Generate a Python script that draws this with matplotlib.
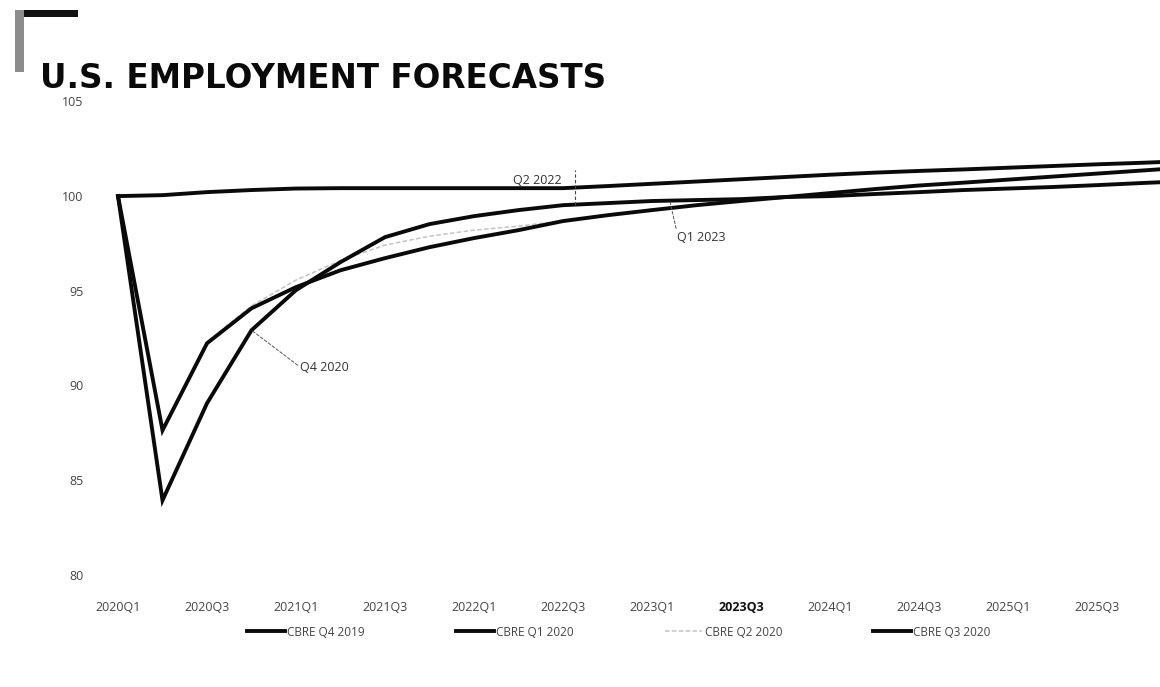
import matplotlib
matplotlib.use("Agg")
import matplotlib.pyplot as plt
from matplotlib.patches import Rectangle
import numpy as np

# ---------------- data ----------------
quarters = ["2020Q1", "2020Q2", "2020Q3", "2020Q4", "2021Q1", "2021Q2", "2021Q3", "2021Q4",
            "2022Q1", "2022Q2", "2022Q3", "2022Q4", "2023Q1", "2023Q2", "2023Q3", "2023Q4",
            "2024Q1", "2024Q2", "2024Q3", "2024Q4", "2025Q1", "2025Q2", "2025Q3", "2025Q4",
            "2026Q1"]

cbre_q4_2019 = [100.00, 100.05, 100.21, 100.32, 100.40, 100.42, 100.42, 100.42, 100.42,
                100.42, 100.42, 100.53, 100.65, 100.77, 100.89, 101.01, 101.13, 101.24,
                101.33, 101.41, 101.50, 101.59, 101.68, 101.76, 101.85]

cbre_q1_2020 = [100.00, 83.92, 89.05, 92.91, 95.03, 96.51, 97.83, 98.52, 98.94, 99.26,
                99.52, 99.63, 99.74, 99.79, 99.84, 99.95, 100.00, 100.11, 100.21, 100.32,
                100.40, 100.48, 100.58, 100.69, 100.79]

cbre_q2_2020 = [100.00, 87.70, 92.30, 94.20, 95.56, 96.60, 97.41, 97.88, 98.20, 98.41,
                98.70, 99.00, 99.30, 99.55, 99.75, 99.93, 100.00, 100.10, 100.20, 100.30,
                100.38, 100.46, 100.56, 100.66, 100.76]

cbre_q3_2020 = [100.00, 87.62, 92.22, 94.07, 95.19, 96.08, 96.72, 97.30, 97.78, 98.20,
                98.68, 98.99, 99.26, 99.52, 99.74, 99.95, 100.16, 100.37, 100.56, 100.71,
                100.87, 101.03, 101.19, 101.35, 101.51]

series_names = ["CBRE Q4 2019", "CBRE Q1 2020", "CBRE Q2 2020", "CBRE Q3 2020"]
y_ticks = [80, 85, 90, 95, 100, 105]

# ---------------- figure ----------------
W, H = 1160, 687
fig = plt.figure(figsize=(W / 100, H / 100), dpi=100)
fig.patch.set_facecolor("white")

def fx(px):
    return px / W

def fy(py):
    return 1 - py / H

ax_left, ax_right, ax_top, ax_bottom = 100, 1160, 101.5, 574.5
ax = fig.add_axes([fx(ax_left), fy(ax_bottom), fx(ax_right - ax_left), (ax_bottom - ax_top) / H])

x = np.arange(len(quarters))
black = "#0a0a0a"
ax.plot(x, cbre_q2_2020, color="#c4c4c4", lw=1.1, ls=(0, (3, 1.5)), zorder=1)
ax.plot(x, cbre_q4_2019, color=black, lw=2.8, zorder=3, solid_joinstyle="miter")
ax.plot(x, cbre_q1_2020, color=black, lw=2.8, zorder=3, solid_joinstyle="miter")
ax.plot(x, cbre_q3_2020, color=black, lw=2.8, zorder=3, solid_joinstyle="miter")

ax.set_xlim((ax_left - 118) / 44.5, (ax_right - 118) / 44.5)
ax.set_ylim(80, 105)
for s in ax.spines.values():
    s.set_visible(False)

ax.set_yticks(y_ticks)
ax.set_yticklabels([str(v) for v in y_ticks])
ax.set_xticks(x[::2][:12])
ax.set_xticklabels(quarters[::2][:12])
ax.tick_params(axis="both", length=0, labelsize=9, labelcolor="#444444")
ax.tick_params(axis="y", pad=12)
ax.tick_params(axis="x", pad=19)
for lab in ax.get_xticklabels():
    lab.set_fontfamily("Open Sans")
    if lab.get_text() == "2023Q3":
        lab.set_fontweight("bold")
        lab.set_color("#111111")
for lab in ax.get_yticklabels():
    lab.set_fontfamily("Open Sans")

# ---------------- annotations ----------------
ann_kw = dict(color="#333333", fontsize=9, family="Open Sans")
lead = dict(arrowstyle="-", color="#555555", lw=0.7, ls=(0, (3, 2)), shrinkA=0, shrinkB=0)

xq = 10.27
yq = float(np.interp(xq, x, cbre_q1_2020))
ax.plot([xq, xq], [yq, 101.4], color="#444444", lw=0.8, ls=(0, (3, 2)), zorder=4)
ax.text(9.42, 100.85, "Q2 2022", ha="center", va="center", **ann_kw)

x1 = 12.4
y1 = float(np.interp(x1, x, cbre_q1_2020))
ax.annotate("Q1 2023", xy=(x1, y1), xytext=(13.1, 97.8), ha="center", va="center",
            arrowprops=dict(lead, relpos=(0.0, 1.0)), **ann_kw)
ax.annotate("Q4 2020", xy=(3, cbre_q1_2020[3]), xytext=(4.1, 90.95), ha="left", va="center",
            arrowprops=dict(lead, relpos=(0.0, 0.5)), **ann_kw)

# ---------------- title and bracket ----------------
fig.text(fx(40), fy(88), "U.S. EMPLOYMENT FORECASTS", fontsize=23.5, fontweight="bold",
         family="DejaVu Sans", color="#0a0a0a", ha="left", va="baseline")
fig.add_artist(Rectangle((fx(15), fy(17)), fx(63), 7 / H, transform=fig.transFigure,
                         color="#111111", lw=0))
fig.add_artist(Rectangle((fx(15), fy(72)), fx(9), 62 / H, transform=fig.transFigure,
                         color="#8c8c8c", lw=0))

# ---------------- legend ----------------
handles = [
    plt.Line2D([], [], color=black, lw=2.8),
    plt.Line2D([], [], color=black, lw=2.8),
    plt.Line2D([], [], color="#c4c4c4", lw=1.1, ls=(0, (3, 1.5))),
    plt.Line2D([], [], color=black, lw=2.8),
]
leg = fig.legend(handles, series_names, loc="center", bbox_to_anchor=(fx(619), fy(632)),
                 ncol=4, frameon=False, handlelength=3.2, handletextpad=0.2,
                 columnspacing=7.7, labelcolor="#444444",
                 prop={"family": "Open Sans", "size": 8.5})

fig.savefig("out.png", dpi=100, facecolor="white")
